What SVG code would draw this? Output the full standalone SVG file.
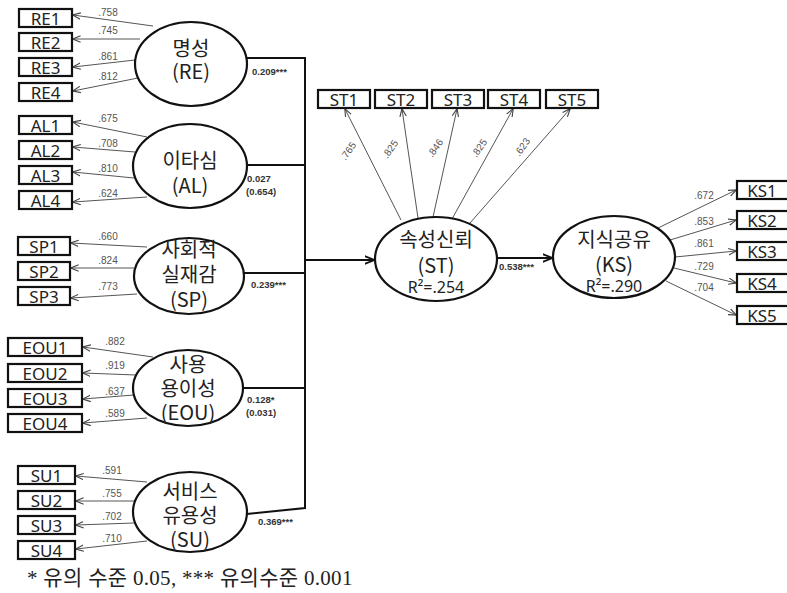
<svg xmlns="http://www.w3.org/2000/svg" width="787" height="593" viewBox="0 0 787 593">
<style>
.bx{fill:#fff;stroke:#111;stroke-width:2.2}
.bt{font-family:"Noto Sans","Noto Sans CJK KR",sans-serif;font-size:17px;fill:#222;text-anchor:middle}
.el{fill:#fff;stroke:#111;stroke-width:2.2}
.et{font-family:"Noto Sans CJK KR","Noto Sans",sans-serif;font-size:20px;fill:#222;text-anchor:middle}
.r2{font-family:"Noto Sans","Noto Sans CJK KR",sans-serif;font-size:16px}
.ld{fill:none;stroke:#555;stroke-width:1}
.lt{font-family:"Liberation Sans",sans-serif;font-size:10px;fill:#555;text-anchor:middle}
.pc{fill:none;stroke:#111;stroke-width:2}
.pt{font-family:"Liberation Sans",sans-serif;font-size:9.5px;font-weight:bold;fill:#333}
.fn{font-family:"Liberation Serif","Noto Sans CJK KR",serif;font-size:21px;letter-spacing:0.3px;fill:#222}
</style>
<defs>
<marker id="a" viewBox="0 0 10 10" refX="9.5" refY="5" markerWidth="8" markerHeight="8" orient="auto" markerUnits="userSpaceOnUse"><path d="M0,1 L10,5 L0,9" fill="none" stroke="#444" stroke-width="1.4"/></marker>
<marker id="b" viewBox="0 0 10 10" refX="9.5" refY="5" markerWidth="10" markerHeight="10" orient="auto" markerUnits="userSpaceOnUse"><path d="M0,1 L10,5 L0,9" fill="none" stroke="#111" stroke-width="1.8"/></marker>
</defs>
<rect width="787" height="593" fill="#fff"/>

<g id="connectors">
<line class="ld" x1="153" y1="26" x2="73" y2="15" marker-end="url(#a)"/>
<line class="ld" x1="140" y1="39" x2="73" y2="39" marker-end="url(#a)"/>
<line class="ld" x1="135" y1="60" x2="73" y2="67" marker-end="url(#a)"/>
<line class="ld" x1="138" y1="78" x2="73" y2="91" marker-end="url(#a)"/>
<line class="ld" x1="147" y1="137" x2="73" y2="122" marker-end="url(#a)"/>
<line class="ld" x1="135" y1="152" x2="73" y2="147" marker-end="url(#a)"/>
<line class="ld" x1="134" y1="178" x2="73" y2="172" marker-end="url(#a)"/>
<line class="ld" x1="147" y1="197" x2="73" y2="202" marker-end="url(#a)"/>
<line class="ld" x1="147" y1="247" x2="71" y2="243" marker-end="url(#a)"/>
<line class="ld" x1="134" y1="268" x2="71" y2="268" marker-end="url(#a)"/>
<line class="ld" x1="137" y1="294" x2="71" y2="298" marker-end="url(#a)"/>
<line class="ld" x1="153" y1="357" x2="83" y2="347" marker-end="url(#a)"/>
<line class="ld" x1="136" y1="375" x2="83" y2="373" marker-end="url(#a)"/>
<line class="ld" x1="134" y1="395" x2="83" y2="399" marker-end="url(#a)"/>
<line class="ld" x1="147" y1="418" x2="83" y2="423" marker-end="url(#a)"/>
<line class="ld" x1="147" y1="482" x2="76" y2="476" marker-end="url(#a)"/>
<line class="ld" x1="135" y1="501" x2="76" y2="501" marker-end="url(#a)"/>
<line class="ld" x1="134" y1="523" x2="76" y2="525" marker-end="url(#a)"/>
<line class="ld" x1="147" y1="541" x2="76" y2="549" marker-end="url(#a)"/>
<line class="ld" x1="401" y1="220" x2="345" y2="109" marker-end="url(#a)"/>
<line class="ld" x1="418" y1="218" x2="402" y2="109" marker-end="url(#a)"/>
<line class="ld" x1="433" y1="217" x2="457" y2="109" marker-end="url(#a)"/>
<line class="ld" x1="452" y1="219" x2="513" y2="109" marker-end="url(#a)"/>
<line class="ld" x1="470" y1="223" x2="570" y2="109" marker-end="url(#a)"/>
<line class="ld" x1="658" y1="228" x2="736" y2="190" marker-end="url(#a)"/>
<line class="ld" x1="670" y1="240" x2="736" y2="220" marker-end="url(#a)"/>
<line class="ld" x1="675" y1="257" x2="736" y2="251" marker-end="url(#a)"/>
<line class="ld" x1="674" y1="268" x2="736" y2="283" marker-end="url(#a)"/>
<line class="ld" x1="666" y1="281" x2="736" y2="315" marker-end="url(#a)"/>
<polyline class="pc" points="244,58 305,58 305,508 247,514"/>
<line class="pc" x1="247" y1="165" x2="305" y2="165"/>
<line class="pc" x1="244" y1="273" x2="305" y2="273"/>
<line class="pc" x1="243" y1="388" x2="305" y2="388"/>
<line class="pc" x1="305" y1="260" x2="374" y2="260" marker-end="url(#b)"/>
<line class="pc" x1="497" y1="258" x2="552" y2="258" marker-end="url(#b)"/>
<text class="lt" x="108" y="16">.758</text>
<text class="lt" x="108" y="34">.745</text>
<text class="lt" x="108" y="60">.861</text>
<text class="lt" x="108" y="80">.812</text>
<text class="lt" x="108" y="122">.675</text>
<text class="lt" x="108" y="147">.708</text>
<text class="lt" x="108" y="172">.810</text>
<text class="lt" x="108" y="197">.624</text>
<text class="lt" x="108" y="240">.660</text>
<text class="lt" x="108" y="264">.824</text>
<text class="lt" x="108" y="290">.773</text>
<text class="lt" x="115" y="345">.882</text>
<text class="lt" x="115" y="369">.919</text>
<text class="lt" x="115" y="395">.637</text>
<text class="lt" x="115" y="417">.589</text>
<text class="lt" x="112" y="474">.591</text>
<text class="lt" x="112" y="497">.755</text>
<text class="lt" x="112" y="520">.702</text>
<text class="lt" x="112" y="542">.710</text>
<text class="lt" transform="translate(351,153) rotate(-55)">.765</text>
<text class="lt" transform="translate(393,151) rotate(-55)">.825</text>
<text class="lt" transform="translate(438,150) rotate(-55)">.846</text>
<text class="lt" transform="translate(482,150) rotate(-55)">.825</text>
<text class="lt" transform="translate(525,149) rotate(-55)">.623</text>
<text class="lt" x="704" y="199">.672</text>
<text class="lt" x="704" y="225">.853</text>
<text class="lt" x="704" y="247">.861</text>
<text class="lt" x="704" y="270">.729</text>
<text class="lt" x="704" y="291">.704</text>
<text class="pt" x="252" y="75">0.209***</text>
<text class="pt" x="247" y="182">0.027<tspan x="246" dy="13">(0.654)</tspan></text>
<text class="pt" x="251" y="288">0.239***</text>
<text class="pt" x="247" y="403">0.128*<tspan x="246" dy="13">(0.031)</tspan></text>
<text class="pt" x="258" y="525">0.369***</text>
<text class="pt" x="499" y="270">0.538***</text>
</g>

<g id="RE"><ellipse class="el" cx="191" cy="64" rx="56" ry="42"/><text class="et" x="191" y="56">명성<tspan x="191" dy="23">(RE)</tspan></text></g>
<g id="AL"><ellipse class="el" cx="190" cy="166" rx="57" ry="42"/><text class="et" x="190" y="168">이타심<tspan x="190" dy="25">(AL)</tspan></text></g>
<g id="SP"><ellipse class="el" cx="189" cy="276" rx="55" ry="38"/><text class="et" x="189" y="257">사회적<tspan x="189" dy="25">실재감</tspan><tspan x="189" dy="25">(SP)</tspan></text></g>
<g id="EOU"><ellipse class="el" cx="188" cy="388" rx="55" ry="38"/><text class="et" x="188" y="372">사용<tspan x="188" dy="24">용이성</tspan><tspan x="188" dy="24">(EOU)</tspan></text></g>
<g id="SU"><ellipse class="el" cx="190" cy="512" rx="57" ry="40"/><text class="et" x="190" y="499">서비스<tspan x="190" dy="24">유용성</tspan><tspan x="190" dy="24">(SU)</tspan></text></g>
<g id="ST"><ellipse class="el" cx="436" cy="259" rx="61" ry="42"/><text class="et" x="436" y="247">속성신뢰<tspan x="436" dy="26">(ST)</tspan><tspan class="r2" x="436" dy="20">R²=.254</tspan></text></g>
<g id="KS"><ellipse class="el" cx="614" cy="257" rx="61" ry="41"/><text class="et" x="614" y="247">지식공유<tspan x="614" dy="25">(KS)</tspan><tspan class="r2" x="614" dy="20">R²=.290</tspan></text></g>

<g id="RE1"><rect class="bx" x="19" y="9" width="53" height="18"/><text class="bt" x="45.5" y="25">RE1</text></g>
<g id="RE2"><rect class="bx" x="19" y="33" width="53" height="18"/><text class="bt" x="45.5" y="49">RE2</text></g>
<g id="RE3"><rect class="bx" x="19" y="58" width="53" height="18"/><text class="bt" x="45.5" y="74">RE3</text></g>
<g id="RE4"><rect class="bx" x="19" y="83" width="53" height="18"/><text class="bt" x="45.5" y="99">RE4</text></g>
<g id="AL1"><rect class="bx" x="19" y="116" width="53" height="18"/><text class="bt" x="45.5" y="132">AL1</text></g>
<g id="AL2"><rect class="bx" x="19" y="141" width="53" height="18"/><text class="bt" x="45.5" y="157">AL2</text></g>
<g id="AL3"><rect class="bx" x="19" y="166" width="53" height="18"/><text class="bt" x="45.5" y="182">AL3</text></g>
<g id="AL4"><rect class="bx" x="19" y="191" width="53" height="18"/><text class="bt" x="45.5" y="207">AL4</text></g>
<g id="SP1"><rect class="bx" x="18" y="237" width="52" height="18"/><text class="bt" x="44" y="253">SP1</text></g>
<g id="SP2"><rect class="bx" x="18" y="262" width="52" height="18"/><text class="bt" x="44" y="278">SP2</text></g>
<g id="SP3"><rect class="bx" x="18" y="287" width="52" height="18"/><text class="bt" x="44" y="303">SP3</text></g>
<g id="EOU1"><rect class="bx" x="8" y="338" width="74" height="18"/><text class="bt" x="45" y="354">EOU1</text></g>
<g id="EOU2"><rect class="bx" x="8" y="364" width="74" height="18"/><text class="bt" x="45" y="380">EOU2</text></g>
<g id="EOU3"><rect class="bx" x="8" y="389" width="74" height="18"/><text class="bt" x="45" y="405">EOU3</text></g>
<g id="EOU4"><rect class="bx" x="8" y="414" width="74" height="18"/><text class="bt" x="45" y="430">EOU4</text></g>
<g id="SU1"><rect class="bx" x="18" y="466" width="57" height="18"/><text class="bt" x="46.5" y="482">SU1</text></g>
<g id="SU2"><rect class="bx" x="18" y="491" width="57" height="18"/><text class="bt" x="46.5" y="507">SU2</text></g>
<g id="SU3"><rect class="bx" x="18" y="516" width="57" height="18"/><text class="bt" x="46.5" y="532">SU3</text></g>
<g id="SU4"><rect class="bx" x="18" y="541" width="57" height="18"/><text class="bt" x="46.5" y="557">SU4</text></g>
<g id="ST1"><rect class="bx" x="318" y="90" width="52" height="18"/><text class="bt" x="344" y="106">ST1</text></g>
<g id="ST2"><rect class="bx" x="375" y="90" width="52" height="18"/><text class="bt" x="401" y="106">ST2</text></g>
<g id="ST3"><rect class="bx" x="432" y="90" width="52" height="18"/><text class="bt" x="458" y="106">ST3</text></g>
<g id="ST4"><rect class="bx" x="488" y="90" width="52" height="18"/><text class="bt" x="514" y="106">ST4</text></g>
<g id="ST5"><rect class="bx" x="546" y="90" width="52" height="18"/><text class="bt" x="572" y="106">ST5</text></g>
<g id="KS1"><rect class="bx" x="737" y="181" width="52" height="18"/><text class="bt" x="762" y="197">KS1</text></g>
<g id="KS2"><rect class="bx" x="737" y="211" width="52" height="18"/><text class="bt" x="762" y="227">KS2</text></g>
<g id="KS3"><rect class="bx" x="737" y="242" width="52" height="18"/><text class="bt" x="762" y="258">KS3</text></g>
<g id="KS4"><rect class="bx" x="737" y="274" width="52" height="18"/><text class="bt" x="762" y="290">KS4</text></g>
<g id="KS5"><rect class="bx" x="737" y="306" width="52" height="18"/><text class="bt" x="762" y="322">KS5</text></g>

<text class="fn" x="27" y="585">* 유의 수준 0.05, *** 유의수준 0.001</text>
</svg>
